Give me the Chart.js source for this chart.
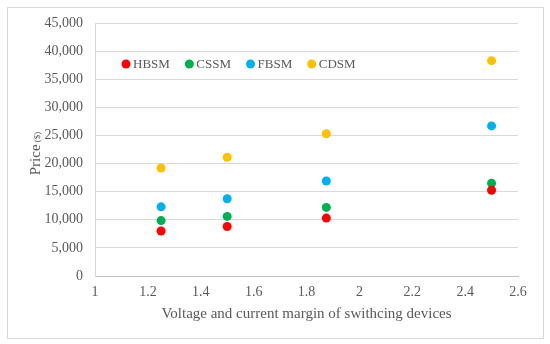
<!DOCTYPE html>
<html>
<head>
<meta charset="utf-8">
<script src="https://cdn.jsdelivr.net/npm/chart.js@4.4.1/dist/chart.umd.min.js"></script>
<style>
    html, body { margin: 0; padding: 0; background: #fff; }
    #wrap { position: relative; width: 550px; height: 344px; }
    #frame { position: absolute; left: 7px; top: 7px; width: 535px; height: 330px; border: 1px solid #d9d9d9; pointer-events: none; }
</style>
</head>
<body>
<div id="wrap">
    <canvas id="chart" width="550" height="344"></canvas>
    <div id="frame"></div>
</div>
<script>
// margin values on the x axis
const margins = [1.25, 1.5, 1.875, 2.5];

// price per topology ($)
const hbsm = [8000, 8800, 10300, 15250];
const cssm = [9850, 10600, 12200, 16500];
const fbsm = [12300, 13750, 16900, 26700];
const cdsm = [19200, 21100, 25300, 38300];

const seriesNames = ['HBSM', 'CSSM', 'FBSM', 'CDSM'];
const seriesColors = ['#ff0000', '#00b050', '#00b0f0', '#ffc000'];

const textColor = '#595959';
const serif = '"Liberation Serif", "Times New Roman", serif';

const toPoints = vals => vals.map((v, i) => ({ x: margins[i], y: v }));

const datasets = [hbsm, cssm, fbsm, cdsm].map((vals, i) => ({
    label: seriesNames[i],
    data: toPoints(vals),
    backgroundColor: seriesColors[i],
    borderColor: seriesColors[i],
    pointRadius: 4.5,
    pointHoverRadius: 4.5,
    borderWidth: 0
}));

// legend sits inside the plot, and the y title has a small "($)" part
const extras = {
    id: 'extras',
    afterDraw(chart) {
        const ctx = chart.ctx;
        ctx.save();
        ctx.font = '13px ' + serif;
        ctx.textBaseline = 'middle';
        let x = 122;
        const y = 64;
        chart.data.datasets.forEach(ds => {
            ctx.fillStyle = ds.backgroundColor;
            ctx.beginPath();
            ctx.arc(x + 4, y, 4.5, 0, Math.PI * 2);
            ctx.fill();
            ctx.fillStyle = textColor;
            ctx.textAlign = 'left';
            ctx.fillText(ds.label, x + 11, y + 1);
            x += 11 + ctx.measureText(ds.label).width + 15.5;
        });

        // y axis title
        const big = 'Price';
        const small = ' ($)';
        ctx.font = '15px ' + serif;
        const wBig = ctx.measureText(big).width;
        ctx.font = '9px ' + serif;
        const wSmall = ctx.measureText(small).width;
        const area = chart.chartArea;
        const cy = (area.top + area.bottom) / 2 + 4;
        ctx.translate(35, cy);
        ctx.rotate(-Math.PI / 2);
        const start = -(wBig + wSmall) / 2;
        ctx.textAlign = 'left';
        ctx.textBaseline = 'alphabetic';
        ctx.font = '15px ' + serif;
        ctx.fillText(big, start, 5);
        ctx.font = '9px ' + serif;
        ctx.fillText(small, start + wBig, 5);
        ctx.restore();
    }
};

new Chart(document.getElementById('chart'), {
    type: 'scatter',
    data: { datasets },
    plugins: [extras],
    options: {
        responsive: false,
        animation: false,
        layout: { padding: { left: 0, right: 32, top: 23, bottom: 21 } },
        plugins: {
            legend: { display: false },
            tooltip: { enabled: false }
        },
        scales: {
            x: {
                type: 'linear',
                min: 1,
                max: 2.6,
                afterFit: s => { s.height = 47; },
                ticks: {
                    stepSize: 0.2,
                    color: textColor,
                    font: { family: serif, size: 14 },
                    padding: 8,
                    maxRotation: 0,
                    callback: v => String(+v.toFixed(1))
                },
                grid: { display: false, drawTicks: false },
                border: { display: true, color: '#bfbfbf', width: 1 },
                title: {
                    display: true,
                    text: 'Voltage and current margin of swithcing devices',
                    color: textColor,
                    font: { family: serif, size: 15 },
                    padding: { top: 4, bottom: 0 }
                }
            },
            y: {
                min: 0,
                max: 45000,
                afterFit: s => { s.width = 95; },
                ticks: {
                    stepSize: 5000,
                    color: textColor,
                    font: { family: serif, size: 14 },
                    padding: 12,
                    callback: v => v.toLocaleString('en-US')
                },
                grid: { color: '#d9d9d9', drawTicks: false },
                border: { display: true, color: '#d9d9d9' }
            }
        }
    }
});
</script>
</body>
</html>
